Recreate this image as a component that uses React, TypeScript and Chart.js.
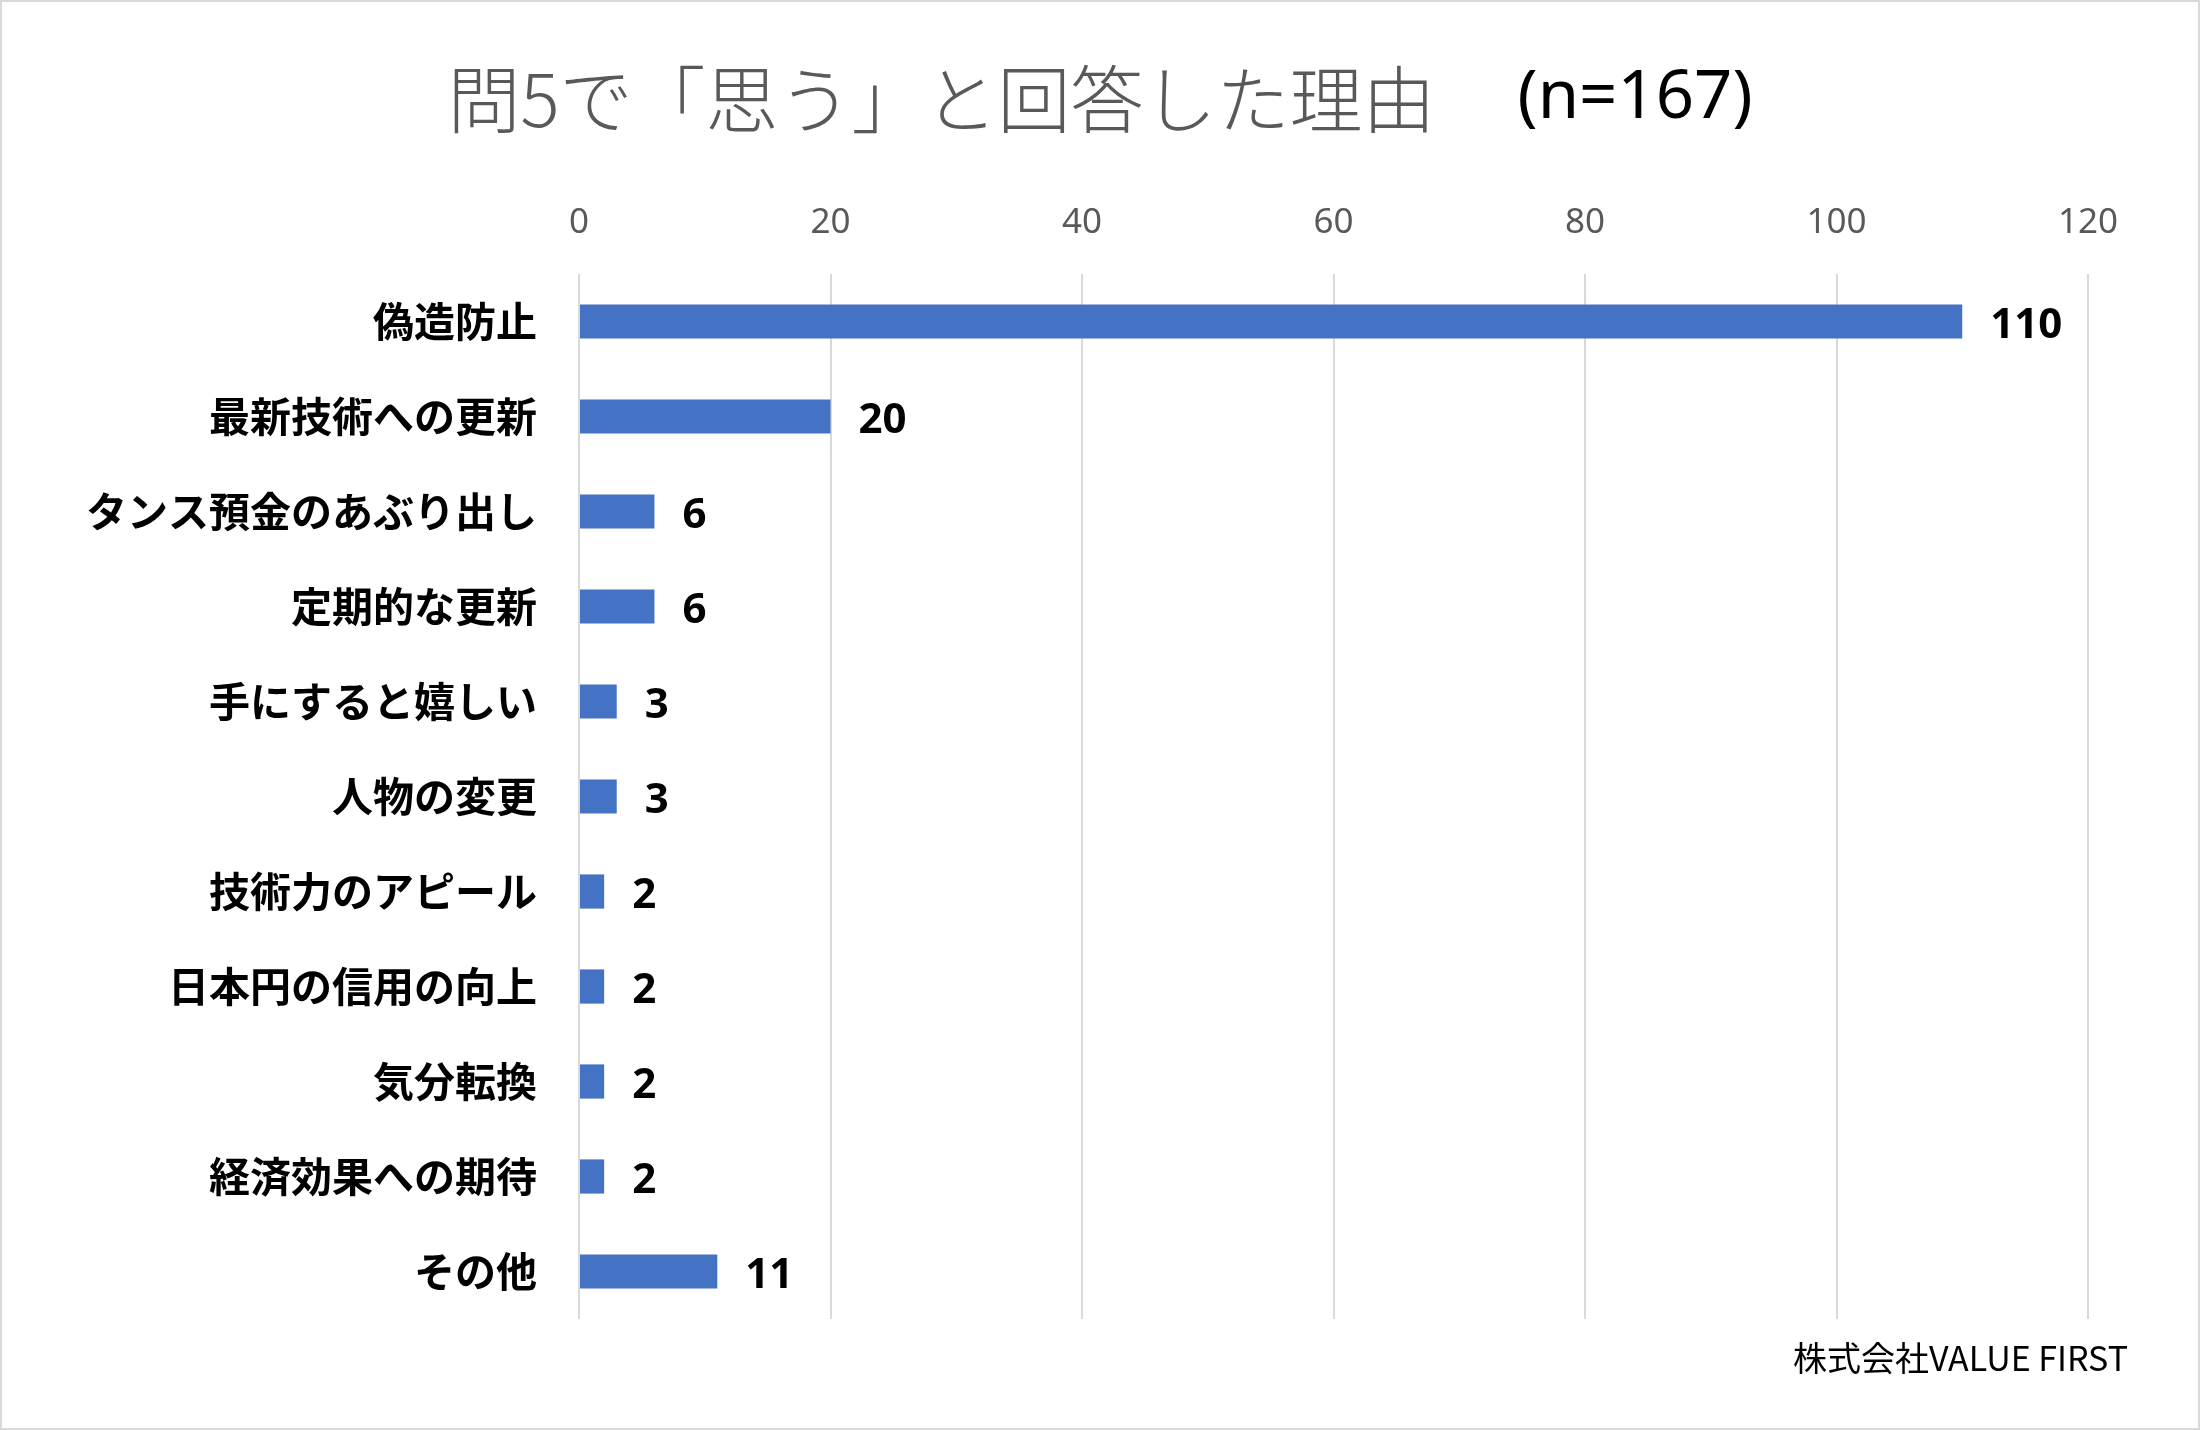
import React, { useEffect, useRef } from 'react';
import { Chart, registerables } from 'chart.js';

Chart.register(...registerables);

const categories = [
  '偽造防止',
  '最新技術への更新',
  'タンス預金のあぶり出し',
  '定期的な更新',
  '手にすると嬉しい',
  '人物の変更',
  '技術力のアピール',
  '日本円の信用の向上',
  '気分転換',
  '経済効果への期待',
  'その他',
];
const values = [110, 20, 6, 6, 3, 3, 2, 2, 2, 2, 11];
const axisMax = 120;
const axisStep = 20;
const titleMain = '問5で「思う」と回答した理由';
const titleN = '(n=167)';
const footerText = '株式会社VALUE FIRST';

const W = 2200;
const H = 1430;
const CJK = '"Noto Sans CJK JP", "Noto Sans", sans-serif';
const LAT = '"Noto Sans", "Open Sans", sans-serif';

export default function App() {
  const ref = useRef<HTMLCanvasElement>(null);

  useEffect(() => {
    let chart: Chart | null = null;
    let cancelled = false;

    const extras = {
      id: 'extras',
      beforeDraw(c: any) {
        const ctx = c.ctx;
        ctx.save();
        ctx.fillStyle = '#ffffff';
        ctx.fillRect(0, 0, c.width, c.height);
        ctx.restore();
      },
      afterDatasetsDraw(c: any) {
        const ctx = c.ctx;
        const meta = c.getDatasetMeta(0);
        ctx.save();
        ctx.font = `bold 42px ${LAT}`;
        ctx.fillStyle = '#000000';
        ctx.textAlign = 'left';
        ctx.textBaseline = 'middle';
        meta.data.forEach((bar: any, i: number) => {
          ctx.fillText(String(values[i]), bar.x + 28, bar.y + 5);
        });
        ctx.restore();
      },
      afterDraw(c: any) {
        const ctx = c.ctx;
        ctx.save();
        // title
        ctx.textBaseline = 'middle';
        ctx.textAlign = 'left';
        const f1 = `300 73px ${CJK}`;
        const f2 = `67px ${LAT}`;
        ctx.font = f1;
        const w1 = ctx.measureText(titleMain).width;
        ctx.font = f2;
        const w2 = ctx.measureText(titleN).width;
        const gap = 82;
        const x0 = W / 2 - (w1 + gap + w2) / 2;
        ctx.font = f1;
        ctx.fillStyle = '#595959';
        ctx.fillText(titleMain, x0, 99);
        ctx.font = f2;
        ctx.fillStyle = '#000000';
        ctx.fillText(titleN, x0 + w1 + gap, 99);
        // footer
        ctx.font = `34px ${CJK}`;
        ctx.textAlign = 'right';
        ctx.fillStyle = '#000000';
        ctx.fillText(footerText, 2128, 1358);
        // outer border
        ctx.strokeStyle = '#d9d9d9';
        ctx.lineWidth = 2;
        ctx.strokeRect(1, 1, W - 2, H - 2);
        ctx.restore();
      },
    };

    const make = () => {
      if (cancelled || !ref.current) return;
      chart = new Chart(ref.current, {
        type: 'bar',
        data: {
          labels: categories,
          datasets: [
            {
              data: values,
              backgroundColor: '#4472C4',
              borderWidth: 0,
              barPercentage: 0.36,
              categoryPercentage: 1,
            },
          ],
        },
        options: {
          indexAxis: 'y',
          responsive: false,
          animation: false,
          devicePixelRatio: 1,
          layout: { padding: { top: 0, left: 0, right: 112, bottom: 111 } },
          plugins: {
            legend: { display: false },
            title: { display: false },
            tooltip: { enabled: false },
          },
          scales: {
            x: {
              position: 'top',
              min: 0,
              max: axisMax,
              ticks: {
                stepSize: axisStep,
                color: '#595959',
                font: { family: LAT, size: 35 },
                padding: 30,
              },
              grid: { color: '#d9d9d9', lineWidth: 2, drawTicks: false },
              border: { display: false },
              afterFit: (s: any) => {
                s.height = 274;
              },
            },
            y: {
              ticks: {
                color: '#000000',
                font: { family: CJK, size: 41, weight: 'bold' },
                padding: 42,
              },
              grid: { display: false, drawTicks: false },
              border: { display: false },
              afterFit: (s: any) => {
                s.width = 579;
              },
            },
          },
        },
        plugins: [extras],
      } as any);
    };

    const fonts = (document as any).fonts;
    if (fonts && fonts.load) {
      Promise.all([
        fonts.load(`bold 41px ${CJK}`),
        fonts.load(`300 73px ${CJK}`),
        fonts.load(`34px ${CJK}`),
        fonts.load(`67px ${LAT}`),
        fonts.load(`bold 42px ${LAT}`),
      ])
        .catch(() => null)
        .then(make);
    } else {
      make();
    }

    return () => {
      cancelled = true;
      if (chart) chart.destroy();
    };
  }, []);

  return (
    <div style={{ position: 'fixed', left: 0, top: 0, width: W, height: H, background: '#fff' }}>
      <canvas ref={ref} width={W} height={H} style={{ width: W, height: H, display: 'block' }} />
    </div>
  );
}
